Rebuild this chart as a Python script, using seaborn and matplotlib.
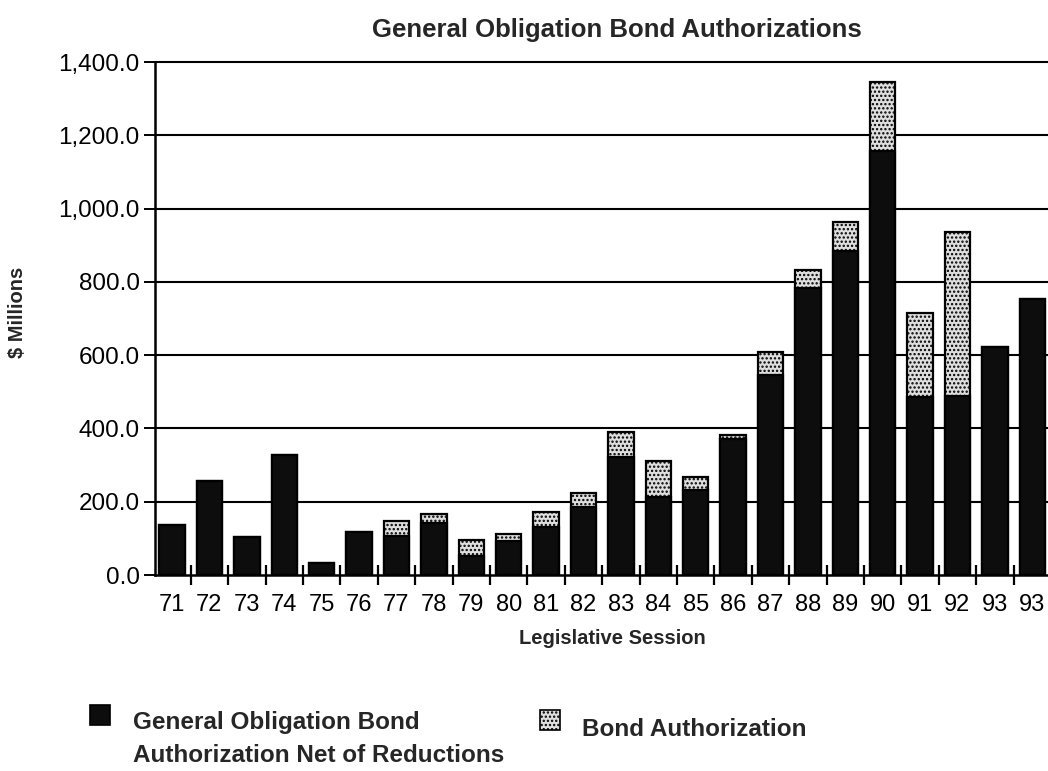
import numpy as np
import pandas as pd
import matplotlib
matplotlib.use("Agg")
import matplotlib.pyplot as plt
from matplotlib.patches import Rectangle
from matplotlib.ticker import StrMethodFormatter, FixedLocator
import seaborn as sns

# Legislative sessions (the last label is repeated in the source chart)
sessions = ["71", "72", "73", "74", "75", "76", "77", "78", "79", "80", "81", "82",
            "83", "84", "85", "86", "87", "88", "89", "90", "91", "92", "93", "93"]

# $ millions
bond_authorization = [137, 256, 105, 328, 34, 116, 148, 167, 96, 111, 173, 223,
                      389, 310, 267, 383, 609, 831, 963, 1345, 716, 935, 621, 753]
net_of_reductions = [137, 256, 105, 328, 34, 116, 106, 142, 53, 93, 130, 186,
                     323, 213, 232, 372, 545, 784, 885, 1157, 486, 488, 621, 753]

W, H = 1048, 771
DARK = "#0d0d0d"
LIGHT = "#dedede"


def main():
    df = pd.DataFrame({
        "pos": np.arange(len(sessions)),
        "total": bond_authorization,
        "net": net_of_reductions,
    })

    sns.set_theme(style="white")
    plt.rcParams["font.family"] = ["Liberation Sans", "DejaVu Sans"]
    plt.rcParams["hatch.linewidth"] = 1.1

    fig = plt.figure(figsize=(W / 100, H / 100), dpi=100)
    ax = fig.add_axes([155 / W, (H - 575) / H, (W - 155) / W, (575 - 62) / H])

    sns.barplot(data=df, x="pos", y="total", color=LIGHT, saturation=1,
                width=0.68, edgecolor="black", linewidth=1.6, hatch="....",
                ax=ax, zorder=2)
    sns.barplot(data=df, x="pos", y="net", color=DARK, saturation=1,
                width=0.68, edgecolor="black", linewidth=1.6,
                ax=ax, zorder=3)

    ax.set_ylim(0, 1400)
    ax.set_xlim(-0.455, 23.42)
    ax.set_yticks(np.arange(0, 1401, 200))
    ax.yaxis.set_major_formatter(StrMethodFormatter("{x:,.1f}"))
    ax.set_xticks(df["pos"])
    ax.set_xticklabels(sessions, fontsize=17)
    ax.xaxis.set_minor_locator(FixedLocator(np.arange(0.5, 23, 1.0)))
    ax.tick_params(axis="x", which="major", length=0, pad=14, colors="black")
    ax.tick_params(axis="x", which="minor", bottom=True, direction="inout",
                   length=15, width=1.6, color="black")
    ax.tick_params(axis="y", which="major", left=True, direction="out",
                   length=8, width=1.4, pad=3, labelsize=17.5, colors="black")
    ax.set_xlabel("")
    ax.set_ylabel("")

    for y in range(200, 1401, 200):
        ax.axhline(y, color="black", linewidth=1.5, zorder=1, clip_on=False)

    sns.despine(ax=ax, top=True, right=True)
    ax.spines["left"].set_color("black")
    ax.spines["left"].set_linewidth(1.8)
    ax.spines["bottom"].set_color("black")
    ax.spines["bottom"].set_linewidth(1.8)

    fig.text(617 / W, 1 - 30 / H, "General Obligation Bond Authorizations",
             ha="center", va="center", fontsize=18.5, fontweight="bold")
    fig.text(18 / W, 1 - 312 / H, "$ Millions", rotation=90,
             ha="center", va="center", fontsize=14.5, fontweight="bold")
    fig.text(612 / W, 1 - 638 / H, "Legislative Session",
             ha="center", va="center", fontsize=14.5, fontweight="bold")

    # legend drawn by hand so the swatch sits on the first text line
    fig.add_artist(Rectangle((90 / W, (H - 725) / H), 20 / W, 20 / H,
                             transform=fig.transFigure, facecolor=DARK,
                             edgecolor="black", linewidth=1.2))
    fig.text(133 / W, 1 - 722 / H, "General Obligation Bond",
             ha="left", va="center", fontsize=17.5, fontweight="bold")
    fig.text(133 / W, 1 - 756 / H, "Authorization Net of Reductions",
             ha="left", va="center", fontsize=17.5, fontweight="bold")
    fig.add_artist(Rectangle((540 / W, (H - 730) / H), 20 / W, 20 / H,
                             transform=fig.transFigure, facecolor=LIGHT,
                             edgecolor="black", linewidth=1.2, hatch="...."))
    fig.text(582 / W, 1 - 730 / H, "Bond Authorization",
             ha="left", va="center", fontsize=17.5, fontweight="bold")

    fig.savefig("out.png", dpi=100, facecolor="white")


if __name__ == "__main__":
    main()
